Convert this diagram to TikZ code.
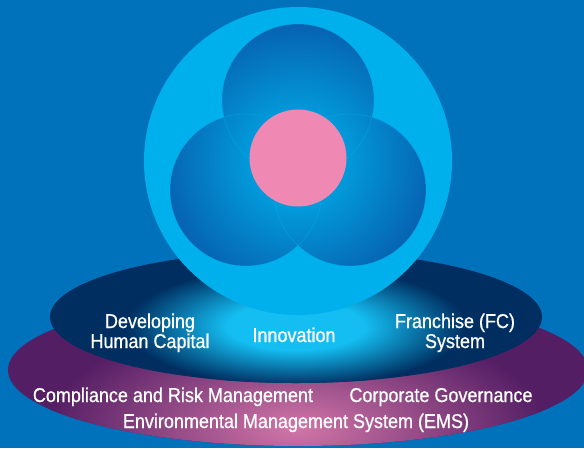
\documentclass[tikz,border=0pt]{standalone}
\usepackage{fontspec}
\setmainfont{Liberation Sans}[FakeStretch=0.9, FakeBold=0.7]
\definecolor{bgblue}{RGB}{0,114,188}
\definecolor{ringblue}{RGB}{0,176,236}
\definecolor{navy}{RGB}{0,46,96}
\definecolor{glowcyan}{RGB}{20,190,242}
\definecolor{plumdark}{RGB}{84,30,100}
\definecolor{plumlight}{RGB}{210,118,168}
\definecolor{petalin}{RGB}{0,184,240}
\definecolor{petalout}{RGB}{6,96,176}
\definecolor{corepink}{RGB}{240,136,180}
\pgfdeclareradialshading{navyglow}{\pgfpoint{0bp}{0bp}}{%
  color(0bp)=(glowcyan); color(10bp)=(glowcyan); color(25bp)=(navy); color(50bp)=(navy)}

\begin{document}
\begin{tikzpicture}[
  x=1pt,
  y=-1pt,
  every node/.style={font=\fontsize{20}{20}\selectfont, text=white, inner sep=0pt},
  label text/.style={align=center, anchor=base},
  petal edge/.style={draw=petalin, line width=0.5pt, opacity=0.45},
]
\useasboundingbox (0,0) rectangle (584,448);
\fill[bgblue] (0,0) rectangle (584,448);

% base ellipses
\fill[plumdark] (298,370) ellipse (290 and 76);
\begin{scope}
  \clip (298,370) ellipse (290 and 76);
  \shade[inner color=plumlight, outer color=plumdark] (296,428) ellipse (250 and 110);
\end{scope}
\fill[navy] (296,317) ellipse (246 and 66);
\begin{scope}
  \clip (296,317) ellipse (246 and 66);
  \shade[shading=navyglow] (296,326) ellipse (170 and 60);
\end{scope}

% big ring and petals
\fill[ringblue] (298,161) circle (154);
\foreach \cx/\cy in {298/100, 246/190, 350/190} {
  \begin{scope}
    \clip (\cx,\cy) circle (76);
    \shade[inner color=petalin, outer color=petalout] (298,160) circle (140);
  \end{scope}
}
\foreach \cx/\cy in {298/100, 246/190, 350/190}
  \draw[petal edge] (\cx,\cy) circle (76);
\fill[corepink] (298,158) circle (48.5);

% labels
\node[label text] (hc) at (150,348) {Developing\\Human Capital};
\node[label text] (inno) at (294,342) {Innovation};
\node[label text] (fc) at (455,348) {Franchise (FC)\\System};
\node[label text] (crm) at (173,402) {Compliance and Risk Management};
\node[label text] (cg) at (441,402) {Corporate Governance};
\node[label text] (ems) at (296,428) {Environmental Management System (EMS)};
\end{tikzpicture}
\end{document}
